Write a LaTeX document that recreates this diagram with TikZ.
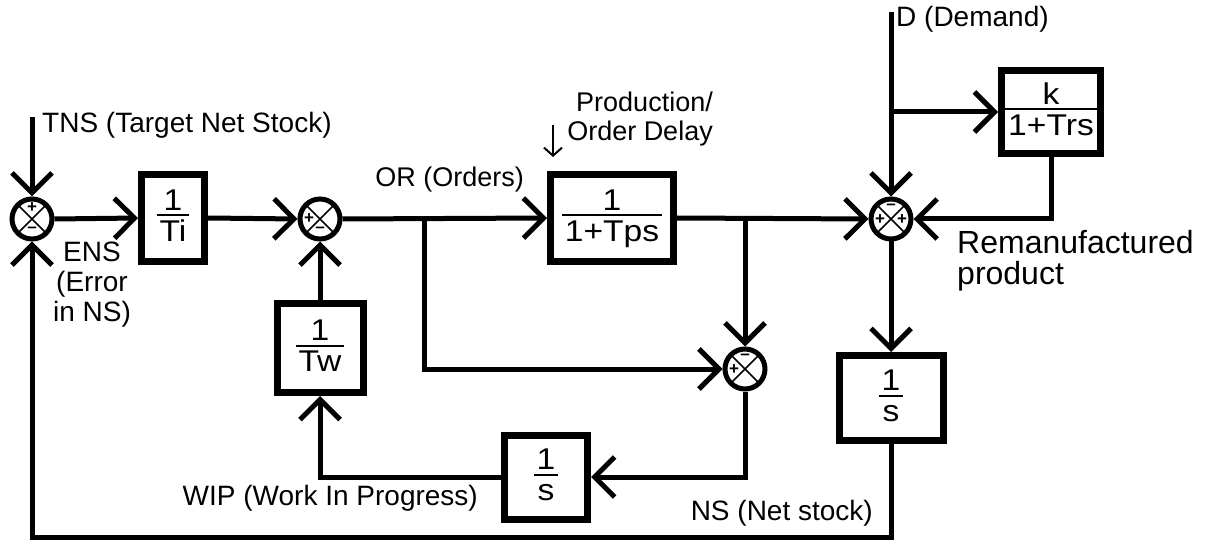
\documentclass[tikz,border=0pt]{standalone}
\usepackage{fontspec}
\setmainfont{Liberation Sans}
\newfontfamily\boxfont[FakeStretch=1.12]{Liberation Sans}
\usetikzlibrary{arrows.meta}
\newcommand{\fr}[2]{{\renewcommand{\arraystretch}{0}\setlength{\arrayrulewidth}{2pt}%
\begin{tabular}{@{\hspace{3pt}}c@{\hspace{3pt}}}\raisebox{0pt}[22pt][4pt]{#1}\\\hline\raisebox{0pt}[25pt][6pt]{#2}\end{tabular}}}
\begin{document}
\begin{tikzpicture}[x=1pt,y=-1pt,
  conn/.style={line width=5pt},
  arr/.style={conn,-{Straight Barb[length=20pt,width=40pt]}},
  blk/.style={draw,line width=7pt,inner sep=0pt,font=\boxfont\fontsize{30}{32}\selectfont},
  sumj/.style={draw,circle,line width=5pt,minimum size=40pt,inner sep=0pt,
    path picture={\draw[line width=1.5pt] (path picture bounding box.south west) -- (path picture bounding box.north east)
      (path picture bounding box.north west) -- (path picture bounding box.south east);}},
  sgn/.style={inner sep=0pt,font=\bfseries\fontsize{17}{17}\selectfont},
  lbl/.style={inner sep=0pt,font=\fontsize{28}{29.5}\selectfont}]
\useasboundingbox (0,0) rectangle (1210,545);

% summing junctions
\node[sumj] (s1) at (32,219) {};
\node[sumj] (s2) at (320,219) {};
\node[sumj] (s3) at (745,369) {};
\node[sumj] (s4) at (891,219) {};

% signs
\node[sgn] at ([shift={(0,-11)}]s1.center) {+};
\node[sgn] at ([shift={(0,11)}]s1.center) {–};
\node[sgn] at ([shift={(-11,0)}]s2.center) {+};
\node[sgn] at ([shift={(0,11)}]s2.center) {–};
\node[sgn] at ([shift={(-11,1)}]s3.center) {+};
\node[sgn] at ([shift={(0,-12)}]s3.center) {–};
\node[sgn] at ([shift={(0,-12)}]s4.center) {–};
\node[sgn] at ([shift={(-11,1)}]s4.center) {+};
\node[sgn] at ([shift={(11,1)}]s4.center) {+};

% blocks
\node[blk,minimum width=63pt,minimum height=87pt] (ti) at (173,218) {\fr{1}{Ti}};
\node[blk,minimum width=123pt,minimum height=87pt] (tps) at (612,218) {\fr{1}{1+Tps}};
\node[blk,minimum width=86pt,minimum height=89pt] (tw) at (320,348) {\fr{1}{Tw}};
\node[blk,minimum width=83pt,minimum height=84pt] (wip) at (546,477) {\fr{1}{s}};
\node[blk,minimum width=104pt,minimum height=85pt] (ns) at (891,398) {\fr{1}{s}};
\node[blk,minimum width=99pt,minimum height=83pt] (k) at (1051,112) {\fr{k}{1+Trs}};

% coordinates
\coordinate (tns) at (32,117);
\coordinate (orb) at (424,219);
\coordinate (tpsb) at (745,219);
\coordinate (d) at (891,12);
\coordinate (db) at (891,112);
\coordinate (bot) at (891,537);
\coordinate (pd1) at (553,125);
\coordinate (pd2) at (553,157);

% connectors
\draw[arr] (tns) -- (s1.north);
\draw[arr] (s1.east) -- (ti.west);
\draw[arr] (ti.east) -- (s2.west);
\draw[arr] (s2.east) -- (tps.west);
\draw[arr] (tps.east) -- (s4.west);
\draw[arr] (orb) |- (s3.west);
\draw[arr] (tpsb) -- (s3.north);
\draw[arr] (s3.south) |- (wip.east);
\draw[arr] (wip.west) -| (tw.south);
\draw[arr] (tw.north) -- (s2.south);
\draw[arr] (s4.south) -- (ns.north);
\draw[arr] (ns.south) -- (bot) -| (s1.south);
\draw[arr] (d) -- (s4.north);
\draw[arr] (db) -- (k.west);
\draw[arr] (k.south) |- (s4.east);
\draw[line width=2pt,-{Straight Barb[length=8pt,width=18pt]}] (pd1) -- (pd2);

% labels (base anchor = baseline of last line)
\node[lbl,anchor=base west] (ltns) at (42,133) {TNS (Target Net Stock)};
\node[lbl,anchor=base east,font=\fontsize{27}{29}\selectfont] (lor) at (524,187) {OR (Orders)};
\node[lbl,anchor=base east,align=right,font=\fontsize{27}{29.5}\selectfont] (lpd) at (713,141) {Production/\\Order Delay};
\node[lbl,anchor=base west] (ld) at (896,27) {D (Demand)};
\node[lbl,anchor=base,align=center] (lens) at (92,321) {ENS\\(Error\\in NS)};
\node[lbl,anchor=base east] (lwip) at (478,505) {WIP (Work In Progress)};
\node[lbl,anchor=base east] (lns) at (873,520) {NS (Net stock)};
\node[inner sep=0pt,anchor=base west,align=left,font=\fontsize{32}{32}\selectfont] (lrem) at (957,285) {Remanufactured\\product};
\end{tikzpicture}
\end{document}
